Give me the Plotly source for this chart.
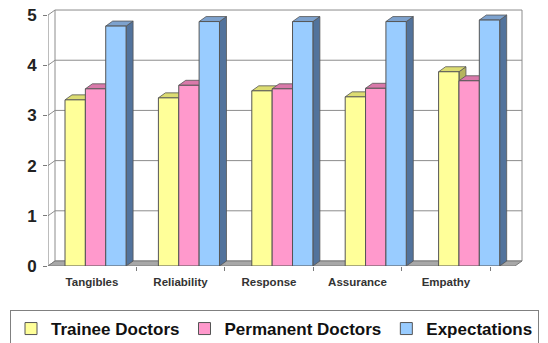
import plotly.graph_objects as go

# ---------------- data ----------------
categories = ["Tangibles", "Reliability", "Response", "Assurance", "Empathy"]
trainee = [3.31, 3.35, 3.49, 3.37, 3.87]
permanent = [3.53, 3.60, 3.53, 3.54, 3.69]
expectations = [4.78, 4.87, 4.87, 4.87, 4.90]
series_names = ["Trainee Doctors", "Permanent Doctors", "Expectations"]
y_ticks = [0, 1, 2, 3, 4, 5]

# ---------------- styles ----------------
front_colors = ["#FFFF99", "#FF99CC", "#99CCFF"]
side_colors = ["#B5B55E", "#B8628F", "#52739C"]
top_colors = ["#DCDC72", "#D979AA", "#7DA2CE"]
edge = "#555555"
FONT = "Arial, Liberation Sans, sans-serif"

W, H = 548, 343
ML, MR, MT, MB = 48, 5, 9, 77
plot_w = W - ML - MR
plot_h = H - MT - MB
WALL_W_PX = 474          # width of the drawn chart box in pixels
X_UNIT_PX = 93.4
X0 = -0.509
XR = [X0, X0 + plot_w / X_UNIT_PX]
YR = [0, 5.12]
px_y = plot_h / YR[1]
DX = 7 / X_UNIT_PX
DY = 5 / px_y
BAR_W = 0.218

series = [trainee, permanent, expectations]
xs = list(range(len(categories)))

fig = go.Figure()
shapes = []

wall_right = X0 + WALL_W_PX / X_UNIT_PX
# back wall
shapes.append(dict(type="rect", xref="x", yref="y", x0=X0 + DX, x1=wall_right,
                   y0=DY, y1=5 + DY, fillcolor="white",
                   line=dict(color="#8C8C8C", width=1), layer="below"))
for g in y_ticks[1:-1]:
    shapes.append(dict(type="line", xref="x", yref="y", x0=X0 + DX, x1=wall_right,
                       y0=g + DY, y1=g + DY, line=dict(color="#8C8C8C", width=1),
                       layer="below"))
# side wall diagonals
for g in y_ticks:
    shapes.append(dict(type="line", xref="x", yref="y", x0=X0, x1=X0 + DX,
                       y0=g, y1=g + DY, line=dict(color="#8C8C8C", width=1),
                       layer="below"))
# floor
shapes.append(dict(type="path", xref="x", yref="y",
                   path=f"M{X0},0 L{wall_right - DX},0 L{wall_right},{DY} L{X0 + DX},{DY} Z",
                   fillcolor="#A8A8A8", line=dict(color="#7A7A7A", width=1),
                   layer="below"))
# y axis line
shapes.append(dict(type="line", xref="x", yref="y", x0=X0, x1=X0, y0=0, y1=5,
                   line=dict(color="#7A7A7A", width=1), layer="above"))

for k, (name, vals) in enumerate(zip(series_names, series)):
    off = -1.5 * BAR_W + k * BAR_W
    fig.add_trace(go.Bar(
        x=xs, y=vals, name=name, width=BAR_W, offset=off,
        marker=dict(color=front_colors[k], line=dict(color=edge, width=1)),
        hoverinfo="y+name",
    ))
    for i, v in zip(xs, vals):
        xl = i + off
        xr = xl + BAR_W
        shapes.append(dict(type="path", xref="x", yref="y",
                           path=f"M{xr},0 L{xr + DX},{DY} L{xr + DX},{v + DY} L{xr},{v} Z",
                           fillcolor=side_colors[k], line=dict(color=edge, width=0.8),
                           layer="below"))
        shapes.append(dict(type="path", xref="x", yref="y",
                           path=f"M{xl},{v} L{xr},{v} L{xr + DX},{v + DY} L{xl + DX},{v + DY} Z",
                           fillcolor=top_colors[k], line=dict(color=edge, width=0.8),
                           layer="below"))

# invisible carrier so the category-label axis is drawn
fig.add_trace(go.Scatter(x=xs, y=[None] * len(xs), xaxis="x2", yaxis="y",
                         mode="markers", marker=dict(opacity=0),
                         showlegend=False, hoverinfo="skip"))

LAB_UNIT_PX = 88.5
L0 = -0.497
fig.update_layout(
    width=W, height=H,
    margin=dict(l=ML, r=MR, t=MT, b=MB, autoexpand=False),
    paper_bgcolor="white", plot_bgcolor="rgba(0,0,0,0)",
    barmode="overlay",
    shapes=shapes,
    xaxis=dict(range=XR, showticklabels=False, showgrid=False, zeroline=False,
               showline=False, ticks=""),
    xaxis2=dict(overlaying="x", anchor="y", side="bottom",
                range=[L0, L0 + plot_w / LAB_UNIT_PX],
                tickmode="array", tickvals=xs, ticktext=categories,
                ticks="", showgrid=False, zeroline=False, showline=False,
                tickfont=dict(family=FONT, size=11.5, color="#333333", weight="bold"),
                ticklabelstandoff=7,
                minor=dict(tickmode="array", tickvals=[x + 0.5 for x in xs],
                           ticks="outside", ticklen=4, tickcolor="#7A7A7A",
                           showgrid=False)),
    yaxis=dict(range=YR, tickmode="array", tickvals=y_ticks, showgrid=False,
               zeroline=False, showline=False, ticks="outside", ticklen=4,
               tickcolor="#7A7A7A",
               tickfont=dict(family=FONT, size=17, color="#222222", weight="bold"),
               ticklabelstandoff=3),
    legend=dict(orientation="h", x=(10 - ML) / plot_w, xanchor="left",
                y=(MT + plot_h - 310) / plot_h, yanchor="top",
                bordercolor="#808080", borderwidth=1, bgcolor="white",
                font=dict(family=FONT, size=17, color="#111111", weight="bold"),
                itemwidth=30, tracegroupgap=0),
    showlegend=True,
)

fig.write_html("out.html")
